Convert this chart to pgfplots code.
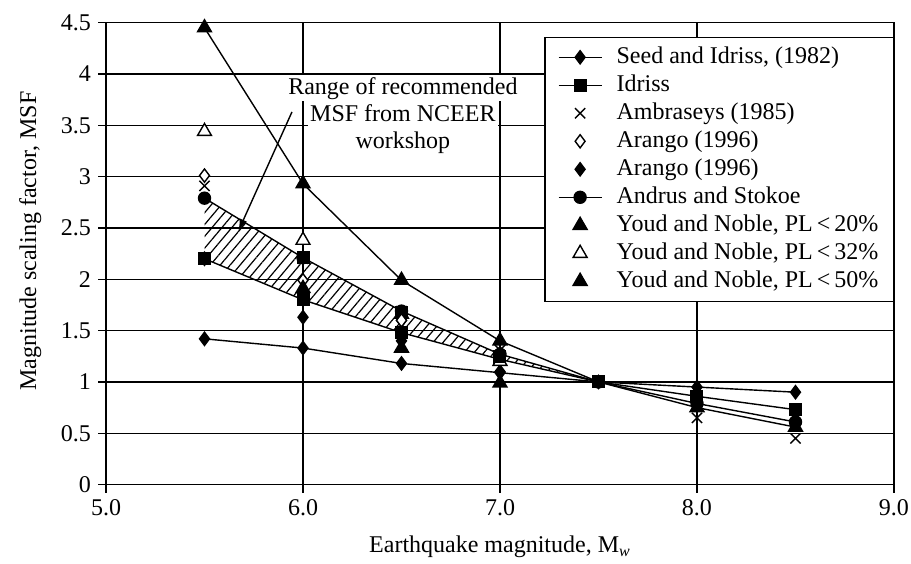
\documentclass[border=0pt]{standalone}
\usepackage{fontspec}
\setmainfont{Liberation Serif}
\usepackage{pgfplots}
\pgfplotsset{compat=1.18}
\usetikzlibrary{patterns.meta,arrows.meta}
\pgfplotsset{
  marklegend/.style={legend image code/.code={%
    \draw[only marks] plot coordinates {(10.75pt,0pt)};
    \path[draw=none,fill=none] (0pt,0pt) (28pt,0pt);}},
  linelegend/.style={legend image code/.code={%
    \draw[mark repeat=2,mark phase=2] plot coordinates {(0pt,0pt)(10.75pt,0pt)(21.5pt,0pt)};
    \path[draw=none,fill=none] (0pt,0pt) (28pt,0pt);}},
}

\begin{document}
\begin{tikzpicture}[font=\fontsize{12}{14.4}\selectfont]
\useasboundingbox (0,0) rectangle (455.5pt,281.5pt);
\begin{axis}[
  at={(53pt,39.2pt)}, anchor=south west,
  width=394pt, height=231pt, scale only axis,
  xmin=5, xmax=9, ymin=0, ymax=4.5,
  xtick={5,6,7,8,9},
  xticklabels={5.0,6.0,7.0,8.0,9.0},
  ytick={0,0.5,1,1.5,2,2.5,3,3.5,4,4.5},
  yticklabels={0,0.5,1,1.5,2,2.5,3,3.5,4,4.5},
  tick align=outside, xtick pos=left, ytick pos=left,
  major tick length=4pt,
  tick style={black, line width=0.7pt},
  grid=major, grid style={black, line width=0.7pt},
  axis line style={line width=0.7pt},
  xlabel={Earthquake magnitude, M\textsubscript{\itshape w}},
  ylabel={Magnitude scaling factor, MSF},
  xlabel style={at={(axis description cs:0.5,-0.147)}, anchor=base},
  ylabel style={at={(axis description cs:-0.0888,0.527)}, anchor=base},
  legend style={at={(axis description cs:1,0.9695)}, anchor=north east,
    draw=black, line width=0.6pt, fill=white, inner xsep=6.5pt, inner ysep=3pt,
    nodes={inner xsep=1pt, inner ysep=1pt, text height=9pt, text depth=3pt, anchor=west}},
  legend cell align=left,
  every axis plot/.append style={line width=0.7pt, mark options={solid}},
]

% hatched NCEER band
\addplot[draw=none, pattern={Lines[angle=50,distance=3.8pt,line width=0.6pt]}, forget plot]
  coordinates {(5.5,2.79)(6.0,2.21)(6.5,1.69)(7.0,1.27)(7.5,1.0)(7.0,1.22)(6.5,1.48)(6.0,1.80)(5.5,2.20)} -- cycle;

% Youd and Noble PL<50% line
\addplot[black, forget plot] coordinates {(5.5,4.45)(6.0,2.93)(6.5,1.99)(7.0,1.40)(7.5,1.0)(8.0,0.75)(8.5,0.56)};

% Seed and Idriss
\addplot[black, mark=diamond*, mark size=3.3pt, linelegend] coordinates {(5.5,1.42)(6.0,1.33)(6.5,1.18)(7.0,1.09)(7.5,1.0)(8.0,0.95)(8.5,0.90)};
\addlegendentry{Seed and Idriss, (1982)}

% Idriss
\addplot[black, mark=square*, mark size=2.9pt, linelegend] coordinates {(5.5,2.20)(6.0,1.80)(6.5,1.48)(7.0,1.22)(7.5,1.0)(8.0,0.86)(8.5,0.73)};
\addlegendentry{Idriss}

% Ambraseys
\addplot[black, only marks, mark=x, mark size=3.6pt, marklegend] coordinates {(5.5,2.91)(6.0,2.20)(6.5,1.69)(7.0,1.31)(7.5,1.0)(8.0,0.65)(8.5,0.45)};
\addlegendentry{Ambraseys (1985)}

% Arango open
\addplot[black, only marks, mark=diamond*, mark size=3.3pt, mark options={fill=white}, marklegend] coordinates {(5.5,3.01)(6.0,1.99)(6.5,1.60)(7.0,1.28)};
\addlegendentry{Arango (1996)}

% Arango filled
\addplot[black, only marks, mark=diamond*, mark size=3.3pt, marklegend] coordinates {(5.5,2.20)(6.0,1.63)(6.5,1.40)(7.0,1.10)};
\addlegendentry{Arango (1996)}

% Andrus and Stokoe
\addplot[black, mark=*, mark size=3pt, linelegend] coordinates {(5.5,2.79)(6.0,2.21)(6.5,1.69)(7.0,1.27)(7.5,1.0)(8.0,0.79)(8.5,0.61)};
\addlegendentry{Andrus and Stokoe}

% Youd and Noble PL<20%
\addplot[black, only marks, mark=triangle*, mark size=4pt, marklegend] coordinates {(6.0,1.91)(6.5,1.33)(7.0,0.99)};
\addlegendentry{Youd and Noble, PL{\,}<{\,}20\%}

% Youd and Noble PL<32%
\addplot[black, only marks, mark=triangle*, mark size=4pt, mark options={fill=white}, marklegend] coordinates {(5.5,3.44)(6.0,2.38)(6.5,1.66)(7.0,1.20)};
\addlegendentry{Youd and Noble, PL{\,}<{\,}32\%}

% Youd and Noble PL<50%
\addplot[black, only marks, mark=triangle*, mark size=4pt, marklegend] coordinates {(5.5,4.45)(6.0,2.93)(6.5,1.99)(7.0,1.40)(8.0,0.75)(8.5,0.56)};
\addlegendentry{Youd and Noble, PL{\,}<{\,}50\%}

% squares drawn on top
\addplot[black, only marks, mark=square*, mark size=2.9pt, forget plot] coordinates {(5.5,2.20)(6.0,2.21)(6.5,1.68)(7.0,1.25)(7.5,1.0)};
\addplot[black, only marks, mark=diamond*, mark size=3.3pt, mark options={fill=white}, forget plot] coordinates {(6.5,1.60)};

% annotation
\node[fill=white, inner xsep=1pt, inner ysep=0.5pt, text height=9pt, text depth=3pt] at (axis cs:6.507,3.86) {Range of recommended};
\node[fill=white, inner xsep=1pt, inner ysep=0.5pt, text height=9pt, text depth=3pt] at (axis cs:6.507,3.60) {MSF from NCEER};
\node[fill=white, inner xsep=1pt, inner ysep=0.5pt, text height=9pt, text depth=3pt] at (axis cs:6.507,3.335) {workshop};
\draw[line width=0.7pt, -{Latex[length=6pt,width=4pt]}] (axis cs:5.944,3.63) -- (axis cs:5.672,2.47);
\end{axis}
\end{tikzpicture}
\end{document}
